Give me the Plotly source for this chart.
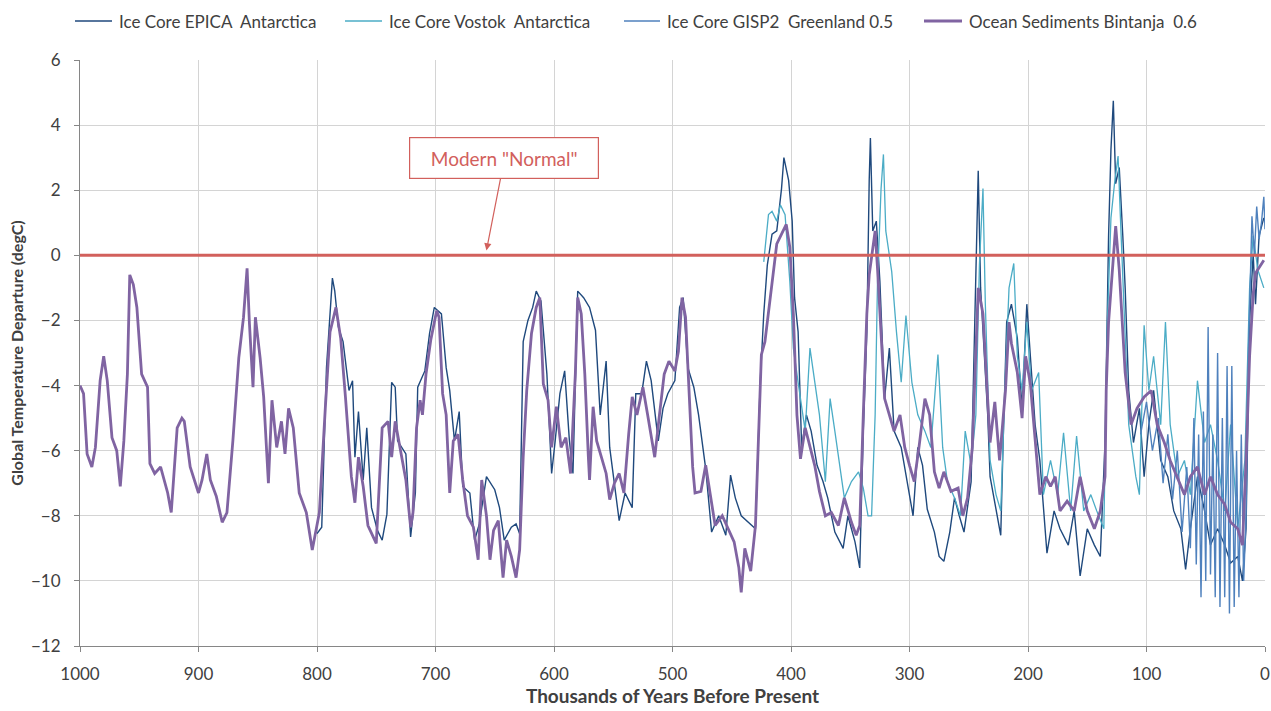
import plotly.graph_objects as go

# ---------------- data ----------------
epica_kyr = [800, 796, 792, 787, 785, 782, 778, 773, 770, 768, 765, 761, 758, 754, 749, 745, 741, 737, 734, 732,
             725, 721, 717, 715, 709, 705, 701, 695, 691, 688, 684, 680, 677, 671, 667, 663, 657, 650, 646, 642,
             636, 632, 629, 626, 622, 618, 615, 611, 606, 602, 599, 595, 591, 587, 584, 580, 575, 570, 565, 561,
             556, 553, 545, 540, 534, 531, 526, 522, 518, 512, 508, 504, 498, 494, 491, 487, 482, 478, 472, 467,
             461, 455, 451, 447, 442, 436, 430, 426, 423, 420, 416, 412, 408, 406, 402, 399, 397, 394, 391, 387,
             383, 378, 373, 369, 363, 356, 352, 346, 342, 339, 336, 334, 333, 331, 328, 325, 321, 317, 313, 307,
             301, 297, 293, 289, 285, 279, 275, 271, 266, 262, 258, 254, 248, 245, 243, 242, 240, 237, 234, 232,
             227, 223, 221, 218, 214, 209, 205, 201, 198, 194, 190, 184, 178, 173, 166, 161, 156, 150, 144, 139,
             135, 132, 130, 128, 126, 123, 120, 118, 115, 111, 106, 102, 98, 94, 88, 82, 77, 71, 67, 63,
             57, 51, 46, 40, 34, 29, 23, 19, 16, 13, 10, 8, 5, 1]
epica_temp = [-8.55, -8.35, -3.45, -0.7, -1.1, -2.2, -2.65, -4.15, -3.85, -6.2, -4.8, -6.9, -5.3, -7.75, -8.45, -8.75, -7.95, -3.9, -4.05, -5.7,
              -6.1, -8.65, -7.3, -4.05, -3.55, -2.4, -1.6, -1.8, -3.45, -4.15, -5.7, -4.8, -7.1, -7.3, -8.75, -8.25, -6.8, -7.2, -7.75, -8.75,
              -8.35, -8.25, -8.55, -2.65, -2.0, -1.6, -1.1, -1.4, -3.65, -6.7, -5.7, -4.25, -3.55, -5.7, -6.7, -1.1, -1.3, -1.6, -2.3, -4.9,
              -3.25, -5.9, -8.15, -7.3, -7.75, -4.25, -4.25, -3.25, -3.85, -5.7, -4.7, -4.25, -3.85, -1.6, -1.3, -3.45, -4.05, -4.9, -6.55, -8.5,
              -8.0, -8.6, -6.75, -7.45, -8.0, -8.2, -8.4, -3.9, -1.8, -0.3, 0.65, 0.75, 2.05, 3.0, 2.3, 1.05, -1.3, -2.35, -5.9, -4.9,
              -5.4, -6.45, -6.95, -7.45, -8.5, -9.0, -8.0, -8.8, -9.6, -5.4, -2.35, 2.3, 3.6, 0.75, 1.05, -0.8, -4.4, -2.85, -5.4, -5.9,
              -7.15, -8.0, -5.9, -6.45, -7.8, -8.5, -9.25, -9.4, -8.5, -7.45, -8.0, -8.5, -6.95, -1.8, 1.75, 2.6, -1.0, -2.85, -4.9, -6.8,
              -7.85, -8.6, -5.75, -2.05, -1.5, -2.55, -4.7, -1.5, -3.1, -5.2, -6.3, -9.15, -7.85, -8.4, -8.9, -7.85, -9.85, -8.4, -8.9, -9.25,
              -5.75, 0.6, 3.25, 4.75, 2.2, 2.7, 0.6, -1.0, -4.15, -5.75, -4.7, -6.8, -5.2, -4.15, -6.3, -6.8, -7.85, -8.4, -9.65, -8.4,
              -6.8, -7.85, -8.9, -8.4, -8.9, -9.45, -9.25, -10.0, -8.4, -2.05, 0.05, -1.5, 0.6, 1.15]

vostok_kyr = [423, 419, 416, 412, 409, 405, 401, 398, 394, 388, 384, 380, 376, 371, 367, 363, 359, 355, 349, 343,
              339, 335, 332, 329, 327, 324, 322, 320, 315, 311, 307, 303, 298, 293, 287, 282, 276, 272, 268, 262,
              257, 253, 248, 244, 241, 238, 236, 232, 227, 223, 219, 216, 212, 209, 205, 201, 197, 191, 187, 181,
              175, 170, 164, 159, 153, 147, 142, 136, 133, 130, 127, 124, 122, 119, 115, 109, 106, 102, 98, 94,
              88, 84, 80, 74, 68, 63, 57, 51, 46, 40, 34, 29, 23, 17, 13, 10, 6, 1]
vostok_temp = [-0.2, 1.25, 1.35, 1.05, 1.55, 1.25, -0.8, -2.85, -3.9, -5.4, -2.85, -3.9, -4.9, -6.95, -4.4, -5.4, -6.45, -7.45, -6.95, -6.65,
               -7.15, -8.0, -8.0, -4.9, -0.8, 2.05, 3.1, 0.75, -0.5, -2.35, -3.9, -1.85, -3.9, -4.9, -5.4, -5.9, -3.05, -5.9, -6.95, -7.45,
               -8.0, -5.4, -6.45, -4.9, -0.3, 2.05, -1.5, -6.3, -7.35, -7.85, -3.6, -1.0, -0.25, -3.1, -4.15, -2.05, -4.15, -3.6, -7.35, -6.3,
               -7.35, -5.45, -7.85, -5.55, -7.85, -7.35, -7.85, -8.4, -2.05, 1.15, 2.2, 3.05, 1.15, -1.5, -5.2, -6.8, -7.35, -2.15, -4.15, -3.1,
               -5.2, -2.05, -5.2, -6.8, -6.3, -7.35, -3.85, -5.75, -5.2, -6.3, -7.85, -5.2, -8.4, -6.3, -1.0, 0.6, -0.45, -1.0]

gisp2_kyr = [105, 100, 95, 90, 86, 82, 78, 74, 70, 66, 63, 60, 58, 56, 54, 52, 50, 48, 46, 44,
             42, 40, 38, 36, 34, 32, 30, 28, 26, 24, 22, 20, 18, 16, 14, 12, 11, 9, 7, 5,
             3, 1, 0]
gisp2_temp = [-5.5, -4.5, -6.0, -5.0, -7.0, -5.5, -7.5, -6.0, -8.5, -6.5, -9.0, -5.0, -9.5, -5.5, -10.5, -4.8, -10.0, -2.2, -9.8, -5.5,
              -10.5, -3.0, -10.8, -5.0, -10.5, -3.4, -11.0, -3.4, -10.8, -6.0, -10.5, -5.5, -10.0, -8.0, -3.0, 0.5, 1.2, 0.0, 1.5, 0.5,
              1.0, 1.8, 0.8]

bintanja_kyr = [1000, 997, 994, 990, 987, 983, 980, 977, 973, 969, 966, 963, 960, 958, 955, 952, 948, 943, 941, 937,
                932, 926, 923, 918, 914, 912, 907, 900, 897, 893, 890, 885, 880, 876, 871, 866, 862, 859, 857, 854,
                852, 848, 845, 841, 838, 834, 830, 827, 824, 820, 815, 809, 804, 798, 793, 789, 784, 780, 776, 771,
                768, 765, 761, 757, 750, 745, 740, 737, 734, 730, 725, 721, 719, 716, 713, 711, 708, 704, 699, 697,
                694, 691, 688, 685, 681, 677, 673, 668, 664, 661, 657, 654, 651, 647, 643, 640, 636, 632, 629, 626,
                623, 619, 615, 612, 609, 605, 602, 598, 594, 590, 586, 582, 580, 577, 574, 571, 570, 567, 564, 560,
                556, 553, 549, 545, 541, 537, 534, 530, 525, 521, 518, 515, 511, 507, 503, 498, 495, 492, 489, 486,
                483, 481, 476, 472, 468, 464, 458, 453, 448, 444, 442, 439, 434, 430, 427, 425, 422, 418, 415, 412,
                408, 404, 401, 398, 395, 392, 388, 384, 380, 376, 371, 366, 360, 355, 349, 345, 342, 339, 336, 334,
                329, 327, 324, 321, 317, 313, 308, 304, 300, 296, 292, 287, 283, 279, 275, 271, 265, 259, 255, 251,
                247, 244, 242, 238, 235, 232, 228, 224, 219, 216, 214, 209, 205, 202, 198, 194, 190, 185, 181, 177,
                173, 167, 161, 156, 150, 144, 139, 135, 134, 132, 129, 126, 123, 120, 118, 113, 108, 102, 96, 91,
                85, 80, 74, 68, 63, 57, 51, 46, 40, 34, 29, 23, 19, 16, 13, 10, 8, 3, 1]
bintanja_temp = [-4.0, -4.25, -6.1, -6.5, -5.9, -3.85, -3.1, -3.85, -5.6, -6.0, -7.1, -5.7, -3.65, -0.6, -0.9, -1.6, -3.65, -4.05, -6.4, -6.7,
                 -6.5, -7.3, -7.9, -5.3, -5.0, -5.1, -6.5, -7.3, -6.9, -6.1, -6.9, -7.4, -8.2, -7.9, -5.7, -3.15, -1.9, -0.4, -2.1, -4.05,
                 -1.9, -3.15, -4.35, -7.0, -4.45, -5.9, -5.1, -6.1, -4.7, -5.3, -7.3, -7.9, -9.05, -7.9, -4.7, -2.35, -1.6, -2.55, -4.35, -6.8,
                 -7.6, -6.2, -7.1, -8.3, -8.85, -5.3, -5.1, -6.2, -5.1, -5.9, -6.9, -8.35, -7.9, -5.3, -4.45, -4.9, -3.65, -2.6, -1.7, -1.9,
                 -4.25, -4.9, -7.3, -5.7, -5.5, -6.9, -8.0, -8.35, -9.35, -6.9, -8.0, -9.35, -8.45, -8.15, -9.9, -8.75, -9.25, -9.9, -9.05, -6.2,
                 -4.15, -2.4, -1.6, -1.3, -3.95, -4.45, -5.9, -4.65, -5.9, -5.6, -6.7, -3.65, -1.3, -1.8, -3.65, -6.2, -6.9, -4.65, -5.7, -6.2,
                 -6.7, -7.5, -7.0, -6.7, -7.3, -5.5, -4.35, -4.9, -4.05, -4.9, -5.5, -6.2, -4.9, -3.65, -3.25, -3.55, -2.95, -1.3, -1.9, -4.35,
                 -6.5, -7.3, -7.25, -6.45, -7.35, -8.3, -8.0, -8.4, -8.8, -9.6, -10.35, -9.0, -9.7, -8.3, -4.9, -3.05, -2.65, -1.4, -0.6, 0.35,
                 0.65, 0.95, 0.25, -1.8, -4.9, -6.25, -5.3, -5.9, -6.45, -7.25, -8.0, -7.9, -8.3, -7.45, -8.2, -8.6, -8.3, -4.9, -1.8, -0.6,
                 0.75, -0.4, -2.45, -4.4, -4.9, -5.4, -4.9, -5.9, -6.45, -6.95, -5.9, -4.4, -4.9, -6.65, -7.15, -6.65, -7.25, -7.15, -8.0, -7.45,
                 -5.9, -2.85, -1.0, -1.8, -4.0, -5.75, -4.5, -6.3, -4.15, -2.05, -2.7, -3.6, -5.0, -3.1, -3.95, -5.75, -7.35, -6.8, -7.1, -6.8,
                 -7.85, -7.55, -7.85, -6.8, -7.85, -8.4, -7.85, -6.8, -4.15, -2.05, -0.45, 0.9, -0.45, -2.55, -3.6, -5.2, -4.7, -4.35, -4.15, -5.2,
                 -5.75, -6.3, -6.8, -7.35, -6.8, -6.5, -7.35, -6.8, -7.35, -7.65, -8.2, -8.4, -8.9, -6.3, -3.1, -1.2, -0.55, -0.25, -0.15]

series_names = ["Ice Core EPICA  Antarctica", "Ice Core Vostok  Antarctica",
                "Ice Core GISP2  Greenland 0.5", "Ocean Sediments Bintanja  0.6"]
series_colors = ["#1F497D", "#4BACC6", "#4F81BD", "#8064A2"]
series_widths = [1.4, 1.3, 1.4, 2.8]
modern_normal = 0.0
annotation_text = 'Modern "Normal"'
annotation_kyr = 657
x_ticks = [1000, 900, 800, 700, 600, 500, 400, 300, 200, 100, 0]
y_ticks = [-12, -10, -8, -6, -4, -2, 0, 2, 4, 6]

# ---------------- figure ----------------
FONT = "Lato"
TXT = "#404040"
RED = "#D2605C"
W, H = 1271, 711
ML, MR, MT, MB = 80, 6, 60, 65
PW, PH = W - ML - MR, H - MT - MB


def px_to_paper_x(px):
    return (px - ML) / PW


def px_to_paper_y(py):
    return (H - MB - py) / PH


fig = go.Figure()
all_x = [epica_kyr, vostok_kyr, gisp2_kyr, bintanja_kyr]
all_y = [epica_temp, vostok_temp, gisp2_temp, bintanja_temp]
for xs, ys, nm, col, wd in zip(all_x, all_y, series_names, series_colors, series_widths):
    fig.add_trace(go.Scatter(x=xs, y=ys, mode="lines", name=nm, showlegend=False,
                             line=dict(color=col, width=wd)))

fig.add_shape(type="line", xref="paper", x0=0, x1=1, yref="y", y0=modern_normal, y1=modern_normal,
              line=dict(color=RED, width=3), layer="above")

# legend drawn along the top (line sample + label)
legend_line_px = [(75, 112), (345, 382), (624, 660), (924, 962)]
legend_y_px = 21
for (x0, x1), nm, col, wd in zip(legend_line_px, series_names, series_colors, series_widths):
    fig.add_shape(type="line", xref="paper", yref="paper",
                  x0=px_to_paper_x(x0), x1=px_to_paper_x(x1),
                  y0=px_to_paper_y(legend_y_px), y1=px_to_paper_y(legend_y_px),
                  line=dict(color=col, width=max(wd, 1.6)))
    fig.add_annotation(xref="paper", yref="paper", x=px_to_paper_x(x1 + 5), y=px_to_paper_y(legend_y_px),
                       xanchor="left", yanchor="middle", text=nm, showarrow=False,
                       font=dict(family=FONT, size=17, color=TXT))

fig.add_annotation(x=annotation_kyr, y=modern_normal + 0.15, xref="x", yref="y",
                   text=annotation_text, showarrow=True, ax=18, ay=-92,
                   arrowhead=2, arrowsize=1.2, arrowwidth=1.2, arrowcolor=RED,
                   font=dict(family=FONT, size=19, color=RED),
                   bgcolor="white", bordercolor=RED, borderwidth=1.2,
                   width=186, height=38, align="center")

fig.update_layout(
    width=W, height=H,
    margin=dict(l=ML, r=MR, t=MT, b=MB, autoexpand=False),
    paper_bgcolor="white", plot_bgcolor="white",
    font=dict(family=FONT, size=17, color=TXT),
    showlegend=False,
    xaxis=dict(range=[1000, 0], tickmode="array", tickvals=x_ticks,
               showgrid=True, gridcolor="#D4D4D4", gridwidth=1,
               showline=True, linecolor="#868686", linewidth=1,
               ticks="outside", ticklen=5, tickcolor="#868686", ticklabelstandoff=8,
               ticklabeloverflow="allow",
               tickfont=dict(family=FONT, size=17, color=TXT), zeroline=False,
               title=dict(text="<b>Thousands of Years Before Present</b>",
                          font=dict(family=FONT, size=19, color=TXT), standoff=4)),
    yaxis=dict(range=[-12, 6], tickmode="array", tickvals=y_ticks,
               showgrid=True, gridcolor="#D4D4D4", gridwidth=1,
               showline=True, linecolor="#868686", linewidth=1,
               ticks="outside", ticklen=5, tickcolor="#868686", ticklabelstandoff=10,
               tickfont=dict(family=FONT, size=17, color=TXT), zeroline=False,
               title=dict(text="<b>Global Temperature Departure (degC)</b>",
                          font=dict(family=FONT, size=16, color=TXT), standoff=3)),
)

fig.write_html("out.html", config={"displayModeBar": False},
               post_script="document.body.style.margin='0';document.body.style.overflow='hidden';")
